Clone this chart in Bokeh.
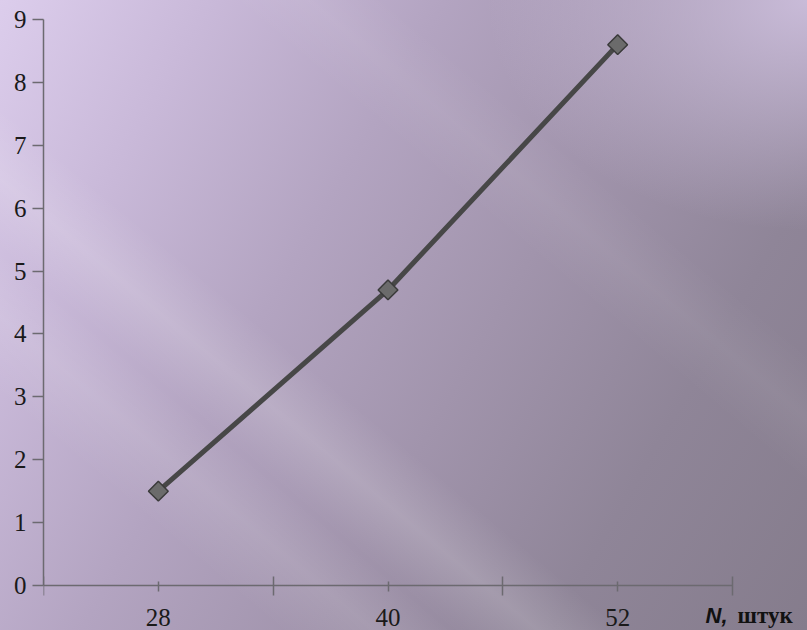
from bokeh.plotting import figure
from bokeh.models import FixedTicker, Label, Range1d
from bokeh.embed import file_html
from bokeh.resources import INLINE
import math

# data
n_values = [28, 40, 52]
t_values = [1.5, 4.7, 8.6]
y_ticks = [0, 1, 2, 3, 4, 5, 6, 7, 8, 9]
x_label_n = "N,"
x_label_unit = "штук"

# layout (pixels)
W, H = 807, 630
frame_left, frame_top = 43, 19
axis_right_px, axis_bottom_px = 732, 585

step = n_values[1] - n_values[0]
x_start = n_values[0] - step / 2
x_end = n_values[-1] + step / 2
boundaries = [x_start + i * step for i in range(len(n_values) + 1)]
y_top = y_ticks[-1]

px_x = (axis_right_px - frame_left) / (x_end - x_start)
px_y = (axis_bottom_px - frame_top) / (y_top - 0)
x_max = x_end + (W - axis_right_px) / px_x
y_min = -(H - axis_bottom_px) / px_y

p = figure(width=W, height=H, output_backend="svg", toolbar_location=None,
           x_range=Range1d(x_start, x_max), y_range=Range1d(y_min, y_top),
           min_border_left=frame_left, min_border_right=0,
           min_border_top=frame_top, min_border_bottom=0)
p.background_fill_color = None
p.border_fill_color = None
p.outline_line_color = None
p.grid.visible = False
p.styles = {
    "background-image": (
        "linear-gradient(40deg, rgba(255,255,255,0) 18%, rgba(255,255,255,0.10) 24%, rgba(255,255,255,0) 29%, "
        "rgba(255,255,255,0.02) 30%, rgba(255,255,255,0.15) 34.5%, rgba(255,255,255,0) 40%, "
        "rgba(255,255,255,0) 63%, rgba(255,255,255,0.06) 68%, rgba(255,255,255,0) 73%),"
        "radial-gradient(320px 230px at 100% 0%, rgba(206,192,222,0.9) 0%, rgba(206,192,222,0) 100%),"
        "linear-gradient(120deg, #dccdec 0%, #c9b9d9 18%, #b3a4c1 38%, #a194ac 58%, #8f8598 78%, #857c8c 100%)"
    )
}

axis_color = "#6c6a70"
font_px = "25px"

# x axis, drawn at y = 0
xa = p.xaxis[0]
xa.fixed_location = 0
xa.bounds = (x_start, x_end)
xa.ticker = FixedTicker(ticks=n_values, minor_ticks=boundaries)
xa.axis_line_color = axis_color
xa.axis_line_width = 1.5
xa.major_tick_line_color = axis_color
xa.major_tick_line_width = 1.5
xa.major_tick_in = 4
xa.major_tick_out = 6
xa.minor_tick_line_color = axis_color
xa.minor_tick_line_width = 1.5
xa.minor_tick_in = 9
xa.minor_tick_out = 10
xa.major_label_text_font = "Liberation Serif"
xa.major_label_text_font_size = font_px
xa.major_label_text_color = "#1a1a1a"
xa.major_label_standoff = 13

# y axis
ya = p.yaxis[0]
ya.bounds = (0, y_top)
ya.ticker = FixedTicker(ticks=y_ticks, minor_ticks=[])
ya.axis_line_color = axis_color
ya.axis_line_width = 1.5
ya.major_tick_line_color = axis_color
ya.major_tick_line_width = 1.5
ya.major_tick_in = 0
ya.major_tick_out = 11
ya.major_label_text_font = "Liberation Serif"
ya.major_label_text_font_size = font_px
ya.major_label_text_color = "#1a1a1a"
ya.major_label_standoff = 6

p.line(n_values, t_values, line_color="#474747", line_width=5)
p.scatter(n_values, t_values, marker="square", size=14, angle=math.pi / 4,
          fill_color="#6b6b6b", line_color="#3a3a3a", line_width=1.5)

p.add_layout(Label(x=x_end, y=0, x_offset=-27, y_offset=-30, text=x_label_n,
                   text_font="Liberation Sans", text_font_style="bold italic",
                   text_font_size="22px", text_color="#111111", text_baseline="alphabetic"))
p.add_layout(Label(x=x_end, y=0, x_offset=5, y_offset=-30, text=x_label_unit,
                   text_font="Liberation Serif", text_font_style="bold",
                   text_font_size="23px", text_color="#111111", text_baseline="alphabetic"))

open("out.html", "w").write(file_html(p, INLINE))
